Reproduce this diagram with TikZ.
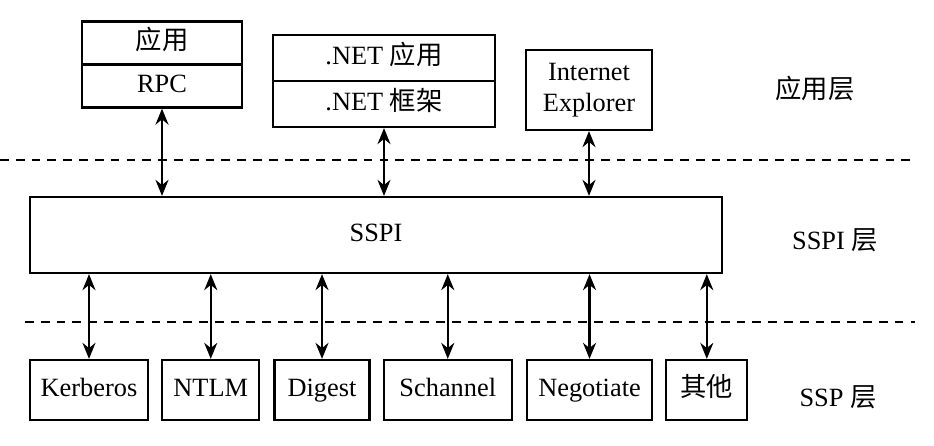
\documentclass[tikz,border=0pt]{standalone}
\usepackage{fontspec}
\setmainfont{Liberation Serif}
\newfontfamily\cjk{Noto Sans CJK SC}
\usetikzlibrary{
    arrows.meta,
    positioning
}
\tikzset{
  part/.style    = {draw, line width=1.3pt, inner sep=0pt, align=center,
                    text height=1.7ex, text depth=0pt,
                    font=\fontsize{15}{18}\selectfont},
  ssp/.style     = {part, minimum height=1.2cm},
  lbl/.style     = {font=\fontsize{15}{18}\selectfont},
  sep/.style     = {dashed, line width=1.6pt, dash pattern=on 5pt off 4pt},
  link/.style    = {{Stealth[length=3.2mm,width=2.6mm]}-{Stealth[length=3.2mm,width=2.6mm]},
                    line width=1.3pt}
}
\newcommand{\zh}[1]{{\cjk #1}}

\begin{document}
\begin{tikzpicture}[x=0.02cm, y=-0.02cm]
  \useasboundingbox (0,0) rectangle (934,446);
  % application layer
  \node[part, minimum width=3.2cm, minimum height=0.86cm] (apptop) at (162,43) {\zh{应用}};
  \node[part, minimum width=3.2cm, minimum height=0.86cm, below=-1.3pt of apptop] (rpc) {RPC};
  \node[part, minimum width=4.44cm, minimum height=0.92cm] (netapp) at (384,58) {.NET \zh{应用}};
  \node[part, minimum width=4.44cm, minimum height=0.92cm, below=-1.3pt of netapp] (netfw) {.NET \zh{框架}};
  \node[part, minimum width=2.52cm, minimum height=1.6cm, text height=, text depth=] (ie) at (589,90) {Internet\\Explorer};
  % SSPI layer
  \node[part, minimum width=13.84cm, minimum height=1.52cm] (sspi) at (376,235) {SSPI};
  % SSP layer
  \node[ssp, minimum width=2.36cm] (kerb) at (89,390) {Kerberos};
  \node[ssp, minimum width=1.94cm, right=0.24cm of kerb] (ntlm) {NTLM};
  \node[ssp, minimum width=1.9cm, right=0.26cm of ntlm] (digest) {Digest};
  \node[ssp, minimum width=2.56cm, right=0.24cm of digest] (schan) {Schannel};
  \node[ssp, minimum width=2.5cm, right=0.26cm of schan] (nego) {Negotiate};
  \node[ssp, minimum width=1.62cm, right=0.24cm of nego] (other) {\zh{其他}};
  % layer names
  \node[lbl] (lapp) at (815,88) {\zh{应用层}};
  \node[lbl] (lsspi) at (835,240) {SSPI \zh{层}};
  \node[lbl] (lssp) at (838,397) {SSP \zh{层}};
  % separators
  \draw[sep] (0,160) -- (910,160);
  \draw[sep] (25,322) -- (915,322);
  % links
  \foreach \n in {rpc, netfw, ie}
    \draw[link] (\n.south) -- (\n.south |- sspi.north);
  \foreach \n in {kerb, ntlm, digest, schan, nego, other}
    \draw[link] (\n.north) -- (\n.north |- sspi.south);
\end{tikzpicture}
\end{document}
